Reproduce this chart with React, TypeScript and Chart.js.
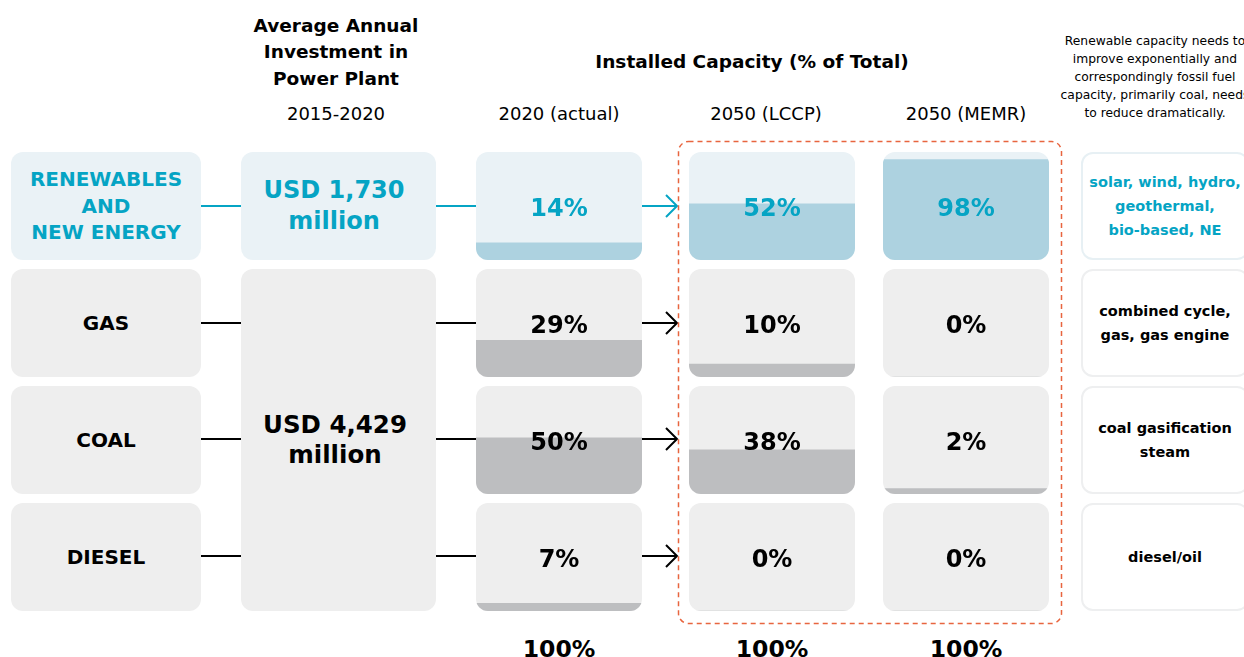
import React, { useEffect, useRef } from 'react';
import { Chart, registerables } from 'chart.js';

Chart.register(...registerables);

// ---------- data ----------
const energyTypes = ['RENEWABLES\nAND\nNEW ENERGY', 'GAS', 'COAL', 'DIESEL'];
const scenarios = ['2020 (actual)', '2050 (LCCP)', '2050 (MEMR)'];
const share2020 = [14, 29, 50, 7];
const shareLCCP = [52, 10, 38, 0];
const shareMEMR = [98, 0, 2, 0];
// visible fill level of each cell (% of cell height)
const fill2020 = [16, 34, 52, 7];
const fillLCCP = [52, 12, 41, 0];
const fillMEMR = [93, 0, 5, 0];
const investmentLabels = ['USD 1,730\nmillion', 'USD 4,429\nmillion'];
const investmentPeriod = '2015-2020';
const totalLabels = ['100%', '100%', '100%'];
const technologyNotes = [
  'solar, wind, hydro,\ngeothermal,\nbio-based, NE',
  'combined cycle,\ngas, gas engine',
  'coal gasification\nsteam',
  'diesel/oil',
];
const investmentTitle = 'Average Annual\nInvestment in\nPower Plant';
const capacityTitle = 'Installed Capacity (% of Total)';
const sideNote =
  'Renewable capacity needs to\nimprove exponentially and\ncorrespondingly fossil fuel\ncapacity, primarily coal, needs\nto reduce dramatically.';

// ---------- style ----------
const FONT = '"DejaVu Sans", "Noto Sans", sans-serif';
const TEAL = '#05a4c4';
const BLUE_BG = '#eaf2f6';
const BLUE_FILL = '#add2e0';
const GRAY_BG = '#eeeeee';
const GRAY_FILL = '#bdbec0';
const DASH = '#e8653f';
const RADIUS = 12;

const ROW_TOP = [152, 269, 386, 503];
const ROW_H = 108;
const LABEL_X = 11, LABEL_W = 190;
const INV_X = 241, INV_W = 195;
const CAP_X = [476, 689, 883];
const CAP_W = 166;
const NOTE_X = 1081, NOTE_W = 168;

const cellBgPlugin = {
  id: 'cellBg',
  beforeDraw(chart: any, _args: any, opts: any) {
    const { ctx, width, height } = chart;
    ctx.save();
    ctx.fillStyle = opts.color;
    ctx.beginPath();
    ctx.roundRect(0, 0, width, height, RADIUS);
    ctx.fill();
    ctx.restore();
  },
  beforeDatasetsDraw(chart: any) {
    const { ctx, width, height } = chart;
    ctx.save();
    ctx.beginPath();
    ctx.roundRect(0, 0, width, height, RADIUS);
    ctx.clip();
  },
  afterDatasetsDraw(chart: any) {
    chart.ctx.restore();
  },
};

function CapacityCell(props: { fill: number; share: number; teal: boolean; left: number; top: number }) {
  const { fill, share, teal, left, top } = props;
  const ref = useRef<HTMLCanvasElement | null>(null);
  useEffect(() => {
    if (!ref.current) return;
    const chart = new Chart(ref.current, {
      type: 'bar',
      data: {
        labels: [''],
        datasets: [
          {
            data: [fill],
            backgroundColor: teal ? BLUE_FILL : GRAY_FILL,
            borderWidth: 0,
            barPercentage: 1,
            categoryPercentage: 1,
          },
        ],
      },
      options: {
        animation: false,
        responsive: false,
        maintainAspectRatio: false,
        layout: { padding: 0 },
        scales: {
          x: { display: false },
          y: { display: false, min: 0, max: 100 },
        },
        plugins: {
          legend: { display: false },
          tooltip: { enabled: false },
          cellBg: { color: teal ? BLUE_BG : GRAY_BG },
        } as any,
      },
      plugins: [cellBgPlugin as any],
    });
    return () => chart.destroy();
  }, [fill, teal]);
  return (
    <div style={{ position: 'absolute', left, top, width: CAP_W, height: ROW_H }}>
      <canvas ref={ref} width={CAP_W} height={ROW_H} style={{ display: 'block', width: CAP_W, height: ROW_H }} />
      <div
        style={{
          position: 'absolute',
          inset: 0,
          paddingTop: 3,
          display: 'flex',
          alignItems: 'center',
          justifyContent: 'center',
          font: `700 24px ${FONT}`,
          color: teal ? TEAL : '#000',
        }}
      >
        {share}%
      </div>
    </div>
  );
}

function Box(props: {
  x: number; y: number; w: number; h: number; bg?: string; border?: string;
  color?: string; font: string; lh: number; text: string; padRight?: number;
}) {
  const { x, y, w, h, bg, border, color, font, lh, text, padRight } = props;
  return (
    <div
      style={{
        position: 'absolute',
        left: x,
        top: y,
        width: w,
        height: h,
        boxSizing: 'border-box',
        paddingRight: padRight || 0,
        background: bg || 'transparent',
        border: border || 'none',
        borderRadius: RADIUS,
        display: 'flex',
        alignItems: 'center',
        justifyContent: 'center',
        textAlign: 'center',
        whiteSpace: 'pre-line',
        font,
        lineHeight: `${lh}px`,
        color: color || '#000',
      }}
    >
      {text}
    </div>
  );
}

function Text(props: { cx: number; cy: number; font: string; lh: number; text: string; color?: string; w?: number }) {
  const w = props.w || 400;
  return (
    <div
      style={{
        position: 'absolute',
        left: props.cx - w / 2,
        top: props.cy,
        width: w,
        transform: 'translateY(-50%)',
        textAlign: 'center',
        whiteSpace: 'pre-line',
        font: props.font,
        lineHeight: `${props.lh}px`,
        color: props.color || '#000',
      }}
    >
      {props.text}
    </div>
  );
}

export default function App() {
  const shares = [share2020, shareLCCP, shareMEMR];
  const fills = [fill2020, fillLCCP, fillMEMR];
  const rowCenter = (i: number) => ROW_TOP[i] + ROW_H / 2;
  const headerX = [559, 766, 966];
  const totalX = [559, 772, 966];

  return (
    <div style={{ position: 'relative', width: 1244, height: 657, overflow: 'hidden', background: '#fff', fontFamily: FONT }}>
      <style>{`body{margin:0}`}</style>

      {/* headers */}
      <Text cx={336} cy={52.5} font={`700 18.5px ${FONT}`} lh={26.5} text={investmentTitle} />
      <Text cx={336} cy={114} font={`400 18px ${FONT}`} lh={22} text={investmentPeriod} />
      <Text cx={752} cy={62} font={`700 18.5px ${FONT}`} lh={22} text={capacityTitle} />
      {scenarios.map((s, j) => (
        <Text key={s} cx={headerX[j]} cy={114} font={`400 18px ${FONT}`} lh={22} text={s} />
      ))}
      <Text cx={1155} cy={76.5} w={270} font={`400 12.3px ${FONT}`} lh={18} text={sideNote} />

      {/* energy type labels */}
      {energyTypes.map((t, i) => (
        <Box
          key={t}
          x={LABEL_X}
          y={ROW_TOP[i]}
          w={LABEL_W}
          h={ROW_H}
          bg={i === 0 ? BLUE_BG : GRAY_BG}
          color={i === 0 ? TEAL : '#000'}
          font={`700 20px ${FONT}`}
          lh={26.5}
          text={t}
        />
      ))}

      {/* investments */}
      <Box x={INV_X} y={ROW_TOP[0]} w={INV_W} h={ROW_H} bg={BLUE_BG} color={TEAL} font={`700 24px ${FONT}`} lh={31} text={investmentLabels[0]} padRight={9} />
      <Box
        x={INV_X}
        y={ROW_TOP[1]}
        w={INV_W}
        h={ROW_TOP[3] + ROW_H - ROW_TOP[1]}
        bg={GRAY_BG}
        color="#000"
        font={`700 24.5px ${FONT}`}
        lh={30}
        text={investmentLabels[1]}
        padRight={7}
      />

      {/* capacity cells */}
      {shares.map((col, j) =>
        col.map((v, i) => (
          <CapacityCell key={`${j}-${i}`} fill={fills[j][i]} share={v} teal={i === 0} left={CAP_X[j]} top={ROW_TOP[i]} />
        ))
      )}

      {/* technology notes */}
      {technologyNotes.map((t, i) => (
        <Box
          key={t}
          x={NOTE_X}
          y={ROW_TOP[i]}
          w={NOTE_W}
          h={ROW_H}
          bg="#fff"
          border={`2.5px solid ${i === 0 ? '#e7f0f4' : '#eeeff0'}`}
          color={i === 0 ? TEAL : '#000'}
          font={`700 14.5px ${FONT}`}
          lh={24}
          text={t}
        />
      ))}

      {/* totals */}
      {totalLabels.map((t, j) => (
        <Text key={j} cx={totalX[j]} cy={649} font={`700 23.5px ${FONT}`} lh={30} text={t} />
      ))}

      {/* connectors, arrows, dashed frame */}
      <svg width={1244} height={657} style={{ position: 'absolute', left: 0, top: 0, pointerEvents: 'none' }}>
        {energyTypes.map((_, i) => {
          const y = rowCenter(i) - (i >= 2 ? 1 : 0);
          const c = i === 0 ? TEAL : '#000';
          const tip = 677;
          return (
            <g key={i} stroke={c} strokeWidth={2} fill="none">
              <line x1={LABEL_X + LABEL_W} y1={y} x2={INV_X} y2={y} />
              <line x1={INV_X + INV_W} y1={y} x2={CAP_X[0]} y2={y} />
              <line x1={CAP_X[0] + CAP_W} y1={y} x2={tip} y2={y} />
              <polyline points={`${tip - 11},${y - 11} ${tip},${y} ${tip - 11},${y + 11}`} />
            </g>
          );
        })}
        <rect x={678.5} y={141.5} width={383} height={482} rx={10} ry={10} fill="none" stroke={DASH} strokeWidth={1.5} strokeDasharray="5 4" />
      </svg>
    </div>
  );
}
